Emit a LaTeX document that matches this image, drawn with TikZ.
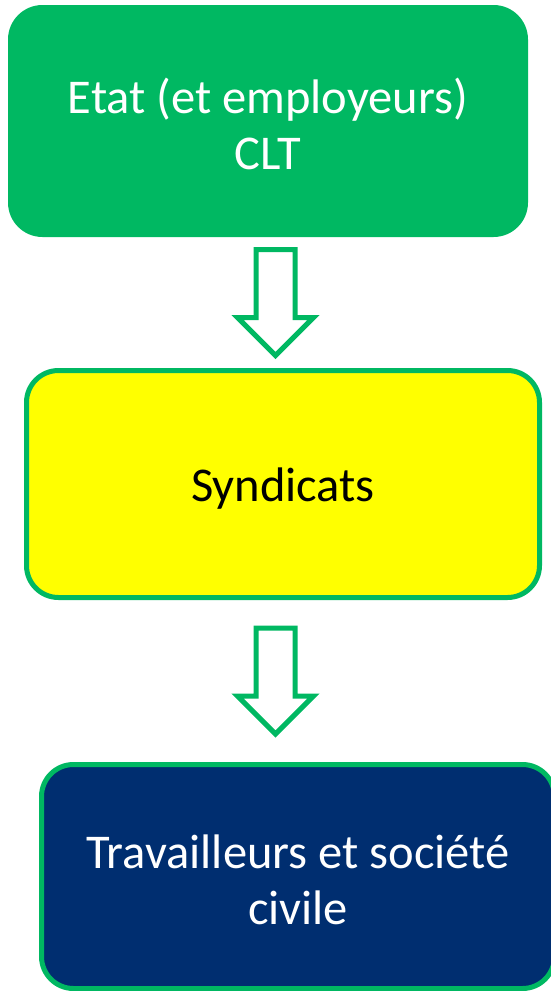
\documentclass[tikz,border=0pt]{standalone}
\usepackage{fontspec}
\setmainfont{Carlito}
\usetikzlibrary{calc}
\definecolor{boxgreen}{RGB}{0,184,98}
\definecolor{boxyellow}{RGB}{255,255,0}
\definecolor{boxblue}{RGB}{0,46,112}
\tikzset{
  stagebox/.style={rounded corners=32pt, line width=5pt, draw=boxgreen,
    inner sep=0pt},
  stagetext/.style={align=center, inner sep=0pt,
    font=\fontsize{48.5}{56}\selectfont},
  pics/blockarrow/.style={code={
    \draw[draw=boxgreen, fill=white, line width=5pt, line join=miter]
      (-19.5,-53) -- (19.5,-53) -- (19.5,15) -- (38,15) -- (0,53)
      -- (-38,15) -- (-19.5,15) -- cycle;
  }}
}
\begin{document}
\begin{tikzpicture}[x=1pt,y=-1pt]
  \useasboundingbox (0,0) rectangle (551,991);
  \node[stagebox, fill=boxgreen, minimum width=515pt, minimum height=227pt]
    (a) at (268,121) {};
  \node[stagebox, fill=boxyellow, minimum width=513pt, minimum height=227pt]
    (b) at (283,484) {};
  \node[stagebox, fill=boxblue, minimum width=513pt, minimum height=224pt]
    (c) at (298,876.5) {};
  \node[stagetext, text=white] (ta) at ($(a.center)+(0,2.5)$) {Etat (et employeurs)\\CLT};
  \node[stagetext, text=black] (tb) at ($(b.center)+(0,4.5)$) {Syndicats};
  \node[stagetext, text=white] (tc) at ($(c.center)+(0,3.5)$) {Travailleurs et société\\civile};
  \coordinate (m1) at ($(a.south)!0.5!(b.north)$);
  \coordinate (m2) at (m1 |- {$(b.south)!0.5!(c.north)$});
  \pic at (m1) {blockarrow};
  \pic at (m2) {blockarrow};
\end{tikzpicture}
\end{document}
